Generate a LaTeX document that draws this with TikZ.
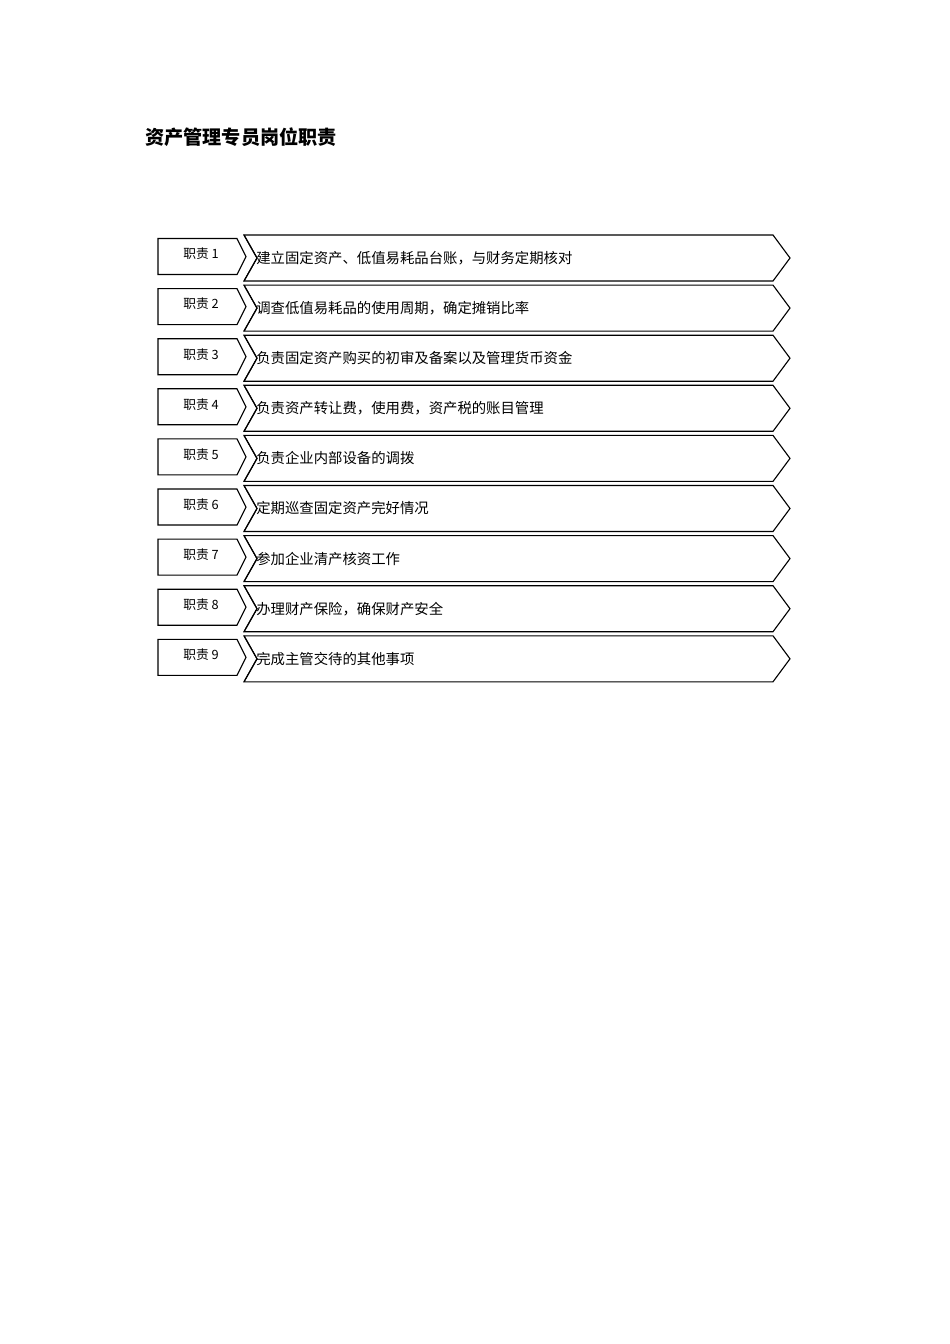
\documentclass[tikz,border=0pt]{standalone}
\usepackage{fontspec}
\newfontfamily\cjk{Noto Sans CJK SC}
\begin{document}
\begin{tikzpicture}[x=0.6263pt,y=-0.6263pt,
  outline/.style={draw=black,line width=0.7pt,line join=miter,fill=white},
  edge/.style={draw=black,line width=0.7pt,line join=miter},
  labeltext/.style={font=\cjk\fontsize{8}{9.5}\selectfont,inner sep=0pt},
  tasktext/.style={font=\cjk\fontsize{9}{11}\selectfont,inner sep=0pt,anchor=west},
  titletext/.style={font=\cjk\bfseries\fontsize{12}{14}\selectfont,inner sep=0pt,anchor=west}]
\useasboundingbox (0,0) rectangle (950,1344);
\node[titletext] (title) at (145,137) {资产管理专员岗位职责};
\foreach \i/\t in {
  1/建立固定资产、低值易耗品台账，与财务定期核对,
  2/调查低值易耗品的使用周期，确定摊销比率,
  3/负责固定资产购买的初审及备案以及管理货币资金,
  4/负责资产转让费，使用费，资产税的账目管理,
  5/负责企业内部设备的调拨,
  6/定期巡查固定资产完好情况,
  7/参加企业清产核资工作,
  8/办理财产保险，确保财产安全,
  9/完成主管交待的其他事项} {
  \pgfmathsetmacro\c{258+50.1*(\i-1)}
  \draw[outline] (158,\c-19.5) -- (237,\c-19.5) -- (246,\c-1.5) -- (237,\c+16.5) -- (158,\c+16.5) -- cycle;
  \draw[outline] (244,\c-23) -- (773,\c-23) -- (790,\c) -- (773,\c+23) -- (244,\c+23) -- (257,\c) -- cycle;
  \node[labeltext] (duty\i) at (201,\c-4) {职责 \i};
  \node[tasktext] (task\i) at (256,\c) {\t};
  \draw[edge] (244,\c-23) -- (257,\c) -- (244,\c+23);
}
\end{tikzpicture}
\end{document}
